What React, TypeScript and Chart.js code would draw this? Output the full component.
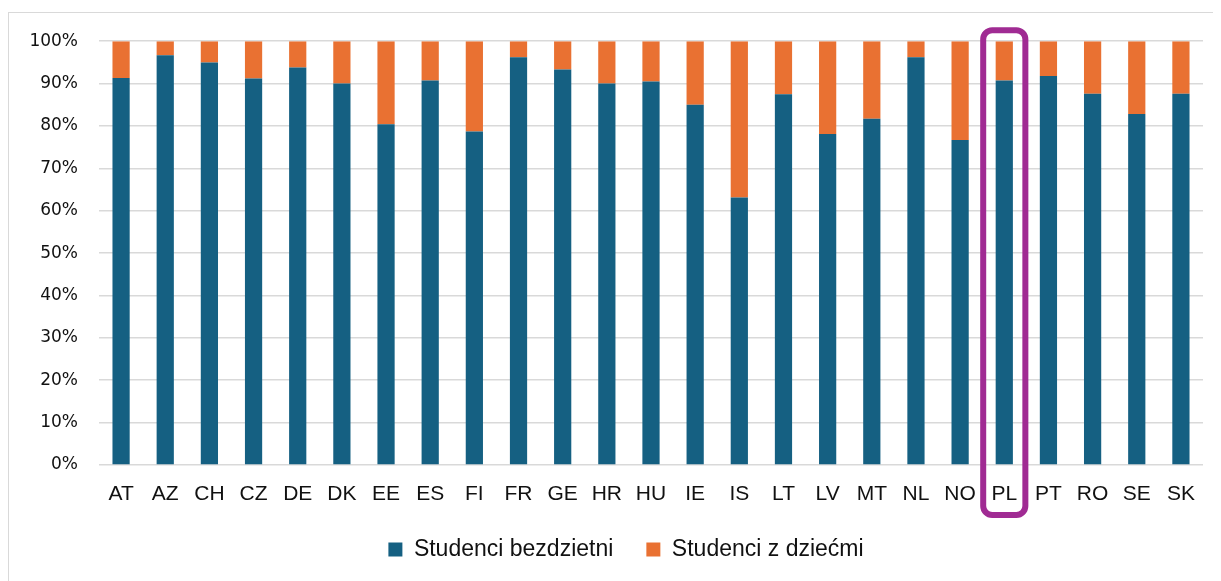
import { useEffect, useRef } from 'react';
import { Chart, registerables } from 'chart.js';

Chart.register(...registerables);

const categories = ['AT', 'AZ', 'CH', 'CZ', 'DE', 'DK', 'EE', 'ES', 'FI', 'FR', 'GE', 'HR', 'HU', 'IE', 'IS', 'LT', 'LV', 'MT', 'NL', 'NO', 'PL', 'PT', 'RO', 'SE', 'SK'];
const childless = [91.3, 96.7, 95.0, 91.2, 93.8, 90.0, 80.4, 90.7, 78.7, 96.2, 93.3, 90.0, 90.5, 85.0, 63.1, 87.5, 78.1, 81.7, 96.2, 76.7, 90.7, 91.8, 87.6, 82.8, 87.6];
const withChildren = [8.7, 3.3, 5.0, 8.8, 6.2, 10.0, 19.6, 9.3, 21.3, 3.8, 6.7, 10.0, 9.5, 15.0, 36.9, 12.5, 21.9, 18.3, 3.8, 23.3, 9.3, 8.2, 12.4, 17.2, 12.4];
const seriesNames = ['Studenci bezdzietni', 'Studenci z dziećmi'];
const highlighted = 'PL';

export default function App() {
  const ref = useRef<HTMLCanvasElement>(null);

  useEffect(() => {
    const highlightBox = {
      id: 'highlightBox',
      afterDraw(chart: any) {
        const idx = categories.indexOf(highlighted);
        if (idx < 0) return;
        const xs = chart.scales.x;
        const ys = chart.scales.y;
        const cx = xs.getPixelForValue(idx);
        const half = xs.width / categories.length / 2 - 1;
        const top = ys.getPixelForValue(100) - 11;
        const bottom = ys.getPixelForValue(0) + 50;
        const ctx = chart.ctx;
        ctx.save();
        ctx.strokeStyle = '#A02B93';
        ctx.lineWidth = 6;
        ctx.beginPath();
        ctx.roundRect(cx - half, top, half * 2, bottom - top, 9);
        ctx.stroke();
        ctx.restore();
      },
    };

    // centre the legend under the whole chart frame like the original
    const legendShift = {
      id: 'legendShift',
      afterLayout(chart: any) {
        if (chart.legend) {
          chart.legend.left += 20;
          chart.legend.right += 20;
        }
      },
    };

    const chart = new Chart(ref.current!, {
      type: 'bar',
      data: {
        labels: categories,
        datasets: [
          { label: seriesNames[0], data: childless, backgroundColor: '#156082', borderWidth: 0 },
          { label: seriesNames[1], data: withChildren, backgroundColor: '#E97132', borderWidth: 0 },
        ],
      },
      options: {
        animation: false,
        responsive: false,
        maintainAspectRatio: false,
        layout: { padding: { left: 0, right: 18, top: 25, bottom: 10 } },
        datasets: { bar: { barPercentage: 0.39, categoryPercentage: 1 } },
        plugins: {
          legend: {
            position: 'bottom',
            labels: {
              boxWidth: 14,
              boxHeight: 14,
              padding: 33,
              color: '#111',
              font: { family: 'Liberation Sans', size: 23 },
            },
          },
          tooltip: { enabled: false },
        },
        scales: {
          x: {
            stacked: true,
            grid: { display: false },
            border: { display: false },
            ticks: {
              color: '#111',
              font: { family: 'Liberation Sans', size: 21 },
              padding: 9,
              maxRotation: 0,
              autoSkip: false,
            },
            afterFit(s: any) {
              s.height = 40;
            },
          },
          y: {
            stacked: true,
            min: 0,
            max: 100,
            ticks: {
              stepSize: 10,
              callback: (v: any) => v + '%',
              color: '#111',
              font: { family: 'DejaVu Sans', size: 17 },
              padding: 21,
            },
            grid: { color: '#d9d9d9', lineWidth: 1.5, drawTicks: false },
            border: { display: false },
            afterFit(s: any) {
              s.width = 90;
            },
          },
        },
      } as any,
      plugins: [highlightBox, legendShift],
    });
    return () => chart.destroy();
  }, []);

  return (
    <div
      style={{
        marginTop: 4,
        width: 1213,
        height: 569,
        borderLeft: '1px solid #d9d9d9',
        borderTop: '1px solid #d9d9d9',
        boxSizing: 'border-box',
        position: 'relative',
        overflow: 'hidden',
      }}
    >
      <canvas
        ref={ref}
        width={1212}
        height={571}
        style={{ display: 'block', position: 'absolute', left: 0, top: -3 }}
      />
    </div>
  );
}
